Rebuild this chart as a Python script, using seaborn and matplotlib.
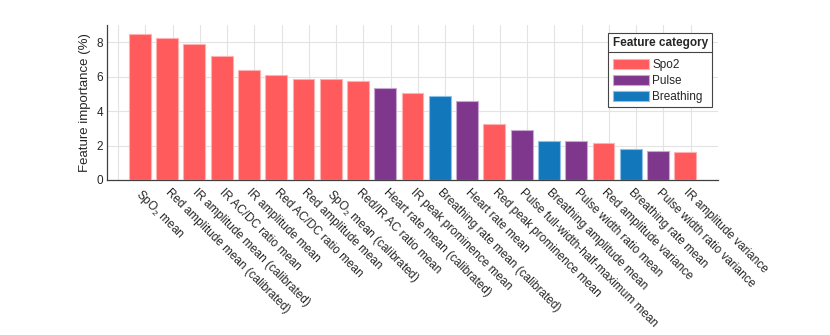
import numpy as np
import pandas as pd
import matplotlib
matplotlib.use("Agg")
import matplotlib.pyplot as plt
import matplotlib.transforms as mtransforms
import seaborn as sns
from matplotlib.patches import Patch
from matplotlib.lines import Line2D

features = [
    "SpO$_2$ mean",
    "Red amplitude mean (calibrated)",
    "IR amplitude mean (calibrated)",
    "IR AC/DC ratio mean",
    "IR amplitude mean",
    "Red AC/DC ratio mean",
    "Red amplitude mean",
    "SpO$_2$ mean (calibrated)",
    "Red/IR AC ratio mean",
    "Heart rate mean (calibrated)",
    "IR peak prominence mean",
    "Breathing rate mean (calibrated)",
    "Heart rate mean",
    "Red peak prominence mean",
    "Pulse full-width-half-maximum mean",
    "Breathing amplitude mean",
    "Pulse width ratio mean",
    "Red amplitude variance",
    "Breathing rate mean",
    "Pulse width ratio variance",
    "IR amplitude variance",
]
importance = [8.46, 8.28, 7.90, 7.18, 6.37, 6.08, 5.85, 5.85, 5.75, 5.33, 5.08,
              4.90, 4.60, 3.25, 2.93, 2.28, 2.27, 2.13, 1.80, 1.67, 1.65]
category = ["Spo2", "Spo2", "Spo2", "Spo2", "Spo2", "Spo2", "Spo2", "Spo2", "Spo2",
            "Pulse", "Spo2", "Breathing", "Pulse", "Spo2", "Pulse", "Breathing",
            "Pulse", "Spo2", "Breathing", "Pulse", "Spo2"]
categories = ["Spo2", "Pulse", "Breathing"]
colors = {"Spo2": "#FF5A5C", "Pulse": "#7E378C", "Breathing": "#1377BB"}
edges = {"Spo2": "#FFB0B0", "Pulse": "#C8A8D0", "Breathing": "#8CC0E6"}

df = pd.DataFrame({"feature": features, "importance": importance, "category": category})

sns.set_theme(style="white")
plt.rcParams["font.family"] = ["Liberation Sans", "DejaVu Sans"]
plt.rcParams["mathtext.fontset"] = "custom"
plt.rcParams["mathtext.rm"] = "Liberation Sans"
plt.rcParams["mathtext.it"] = "Liberation Sans"

fig = plt.figure(figsize=(8.3, 3.35), dpi=100)
ax = fig.add_axes([0.129, 0.463, 0.736, 0.462])

sns.barplot(data=df, x="feature", y="importance", hue="category", dodge=False,
            palette=colors, hue_order=categories, order=features, width=0.8,
            saturation=1, ax=ax, legend=False, zorder=3)

for p in ax.patches:
    fc = matplotlib.colors.to_hex(p.get_facecolor())
    for c, col in colors.items():
        if fc.lower() == col.lower():
            p.set_edgecolor(edges[c])
            p.set_linewidth(0.8)

n = len(features)
ax.set_xlim(-1.2, n - 1 + 1.2)
ax.set_ylim(0, 9.0)
ax.set_yticks([0, 2, 4, 6, 8])
ax.set_xticks(range(n))
ax.set_xticklabels(features, rotation=-45, ha="left", va="top",
                   rotation_mode="anchor", fontsize=8.5, color="#262626")
ax.tick_params(axis="x", length=0, pad=5)
offset = mtransforms.ScaledTranslation(4 / 100, 0, fig.dpi_scale_trans)
for lbl in ax.get_xticklabels():
    lbl.set_transform(lbl.get_transform() + offset)
ax.tick_params(axis="y", direction="in", length=4, width=0.8, color="#404040",
               labelsize=8.5, labelcolor="#262626", pad=3)

# grid
ax.set_axisbelow(True)
ax.yaxis.grid(True, color="#E3E3E3", linewidth=0.8, zorder=0)
for gx in np.arange(n + 1) + 0.2 - 1:
    ax.axvline(gx, color="#E3E3E3", linewidth=0.8, zorder=0)

for s in ["top", "right"]:
    ax.spines[s].set_visible(False)
for s in ["left", "bottom"]:
    ax.spines[s].set_color("#404040")
    ax.spines[s].set_linewidth(0.9)

ax.set_xlabel("")
ax.set_ylabel("Feature importance (%)", fontsize=9.5, color="#262626", labelpad=4)

handles = [Patch(facecolor=colors[c], edgecolor=edges[c], linewidth=0.8, label=c)
           for c in categories]
leg = ax.legend(handles=handles, title="Feature category", loc="upper right",
                bbox_to_anchor=(0.99, 0.948), fontsize=8.5, title_fontsize=8.5,
                handlelength=3.1, handleheight=0.95, handletextpad=0.25,
                labelspacing=0.32, borderpad=0.35, borderaxespad=0,
                frameon=True, fancybox=False,
                edgecolor="#444444", framealpha=1)
leg.get_title().set_fontweight("bold")
leg.get_frame().set_linewidth(0.8)
leg._legend_box.align = "left"
leg._legend_box.sep = 7

fig.canvas.draw()
r = fig.canvas.get_renderer()
fb = leg.get_frame().get_window_extent(r)
tb = leg.get_title().get_window_extent(r)
yline = tb.y0 - 3
inv = fig.transFigure.inverted()
(x0, y0), (x1, _) = inv.transform([(fb.x0, yline), (fb.x1, yline)])
fig.add_artist(Line2D([x0, x1], [y0, y0], transform=fig.transFigure,
                      color="#444444", linewidth=0.8, zorder=10))

fig.savefig("out.png", dpi=100, facecolor="white")
